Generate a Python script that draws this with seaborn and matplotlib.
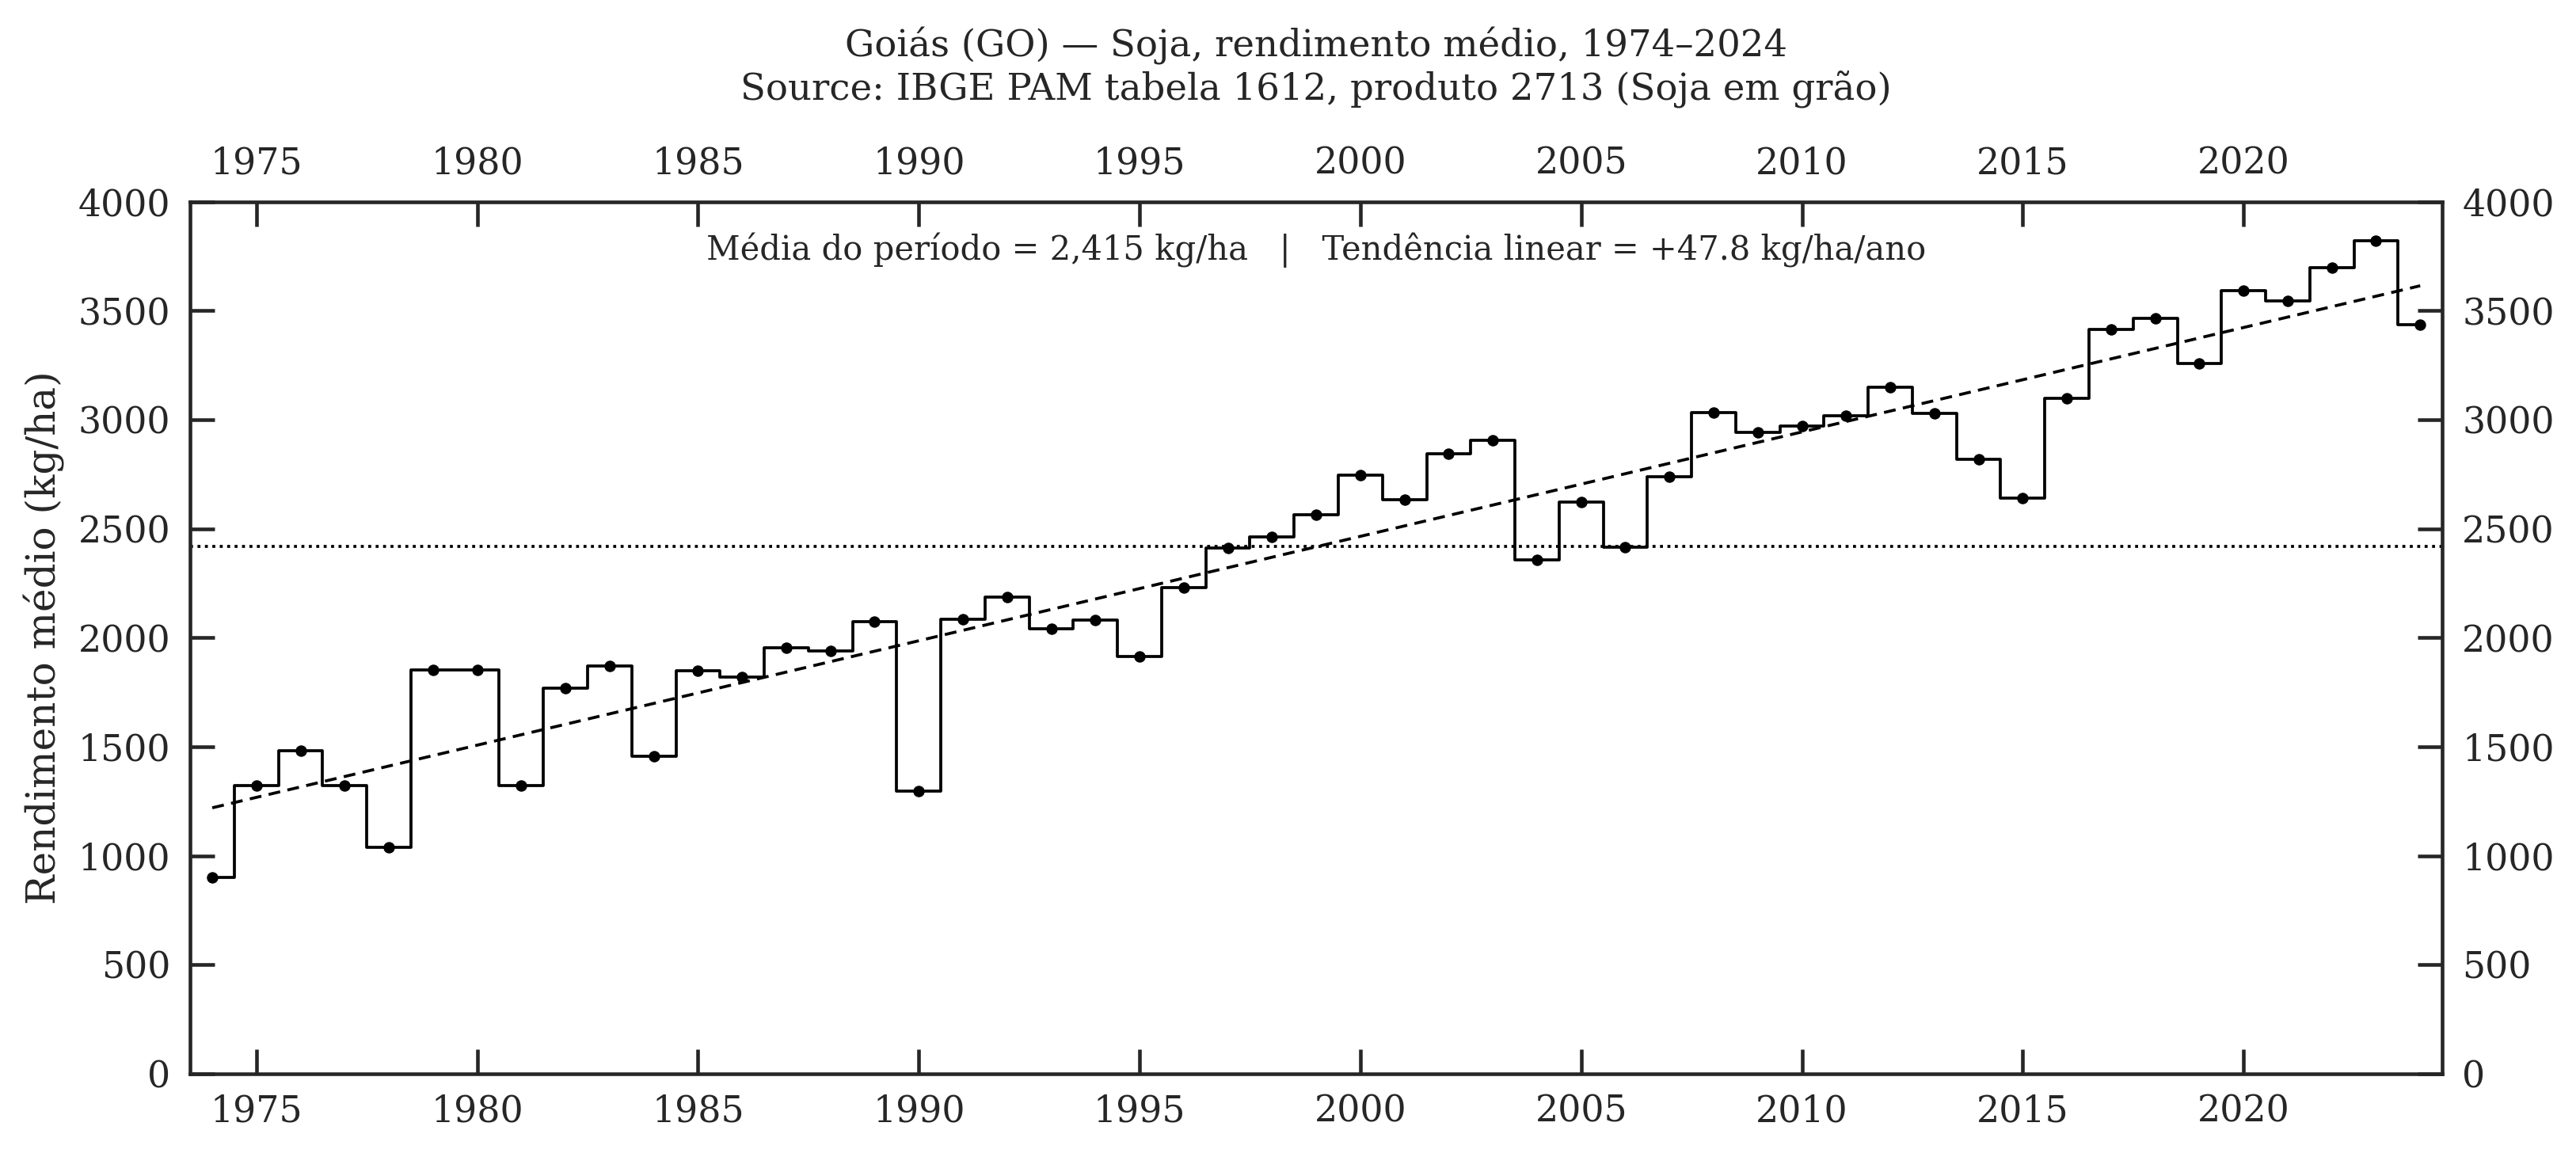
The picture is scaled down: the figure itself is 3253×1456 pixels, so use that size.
import matplotlib
matplotlib.use("Agg")
import matplotlib.pyplot as plt
import numpy as np
import pandas as pd
import seaborn as sns

# rendimento médio de soja em Goiás (kg/ha)
years = list(range(1974, 2025))
yield_kg_ha = [
    900, 1322, 1482, 1322, 1040, 1852, 1852, 1322, 1768, 1870,
    1455, 1848, 1818, 1954, 1940, 2074, 1297, 2084, 2186, 2042,
    2080, 1914, 2231, 2411, 2464, 2566, 2746, 2635, 2843, 2907,
    2356, 2622, 2416, 2740, 3033, 2942, 2970, 3018, 3150, 3028,
    2817, 2642, 3097, 3413, 3465, 3260, 3593, 3547, 3696, 3822,
    3437,
]
x_ticks = [1975, 1980, 1985, 1990, 1995, 2000, 2005, 2010, 2015, 2020]
y_ticks = [0, 500, 1000, 1500, 2000, 2500, 3000, 3500, 4000]

title = ("Goiás (GO) — Soja, rendimento médio, 1974–2024\n"
         "Source: IBGE PAM tabela 1612, produto 2713 (Soja em grão)")
stats_text = ("Média do período = 2,415 kg/ha   |   "
              "Tendência linear = +47.8 kg/ha/ano")

df = pd.DataFrame({"ano": years, "rendimento": yield_kg_ha})
mean_val = df["rendimento"].mean()
slope, intercept = np.polyfit(df["ano"], df["rendimento"], 1)
df["tendencia"] = intercept + slope * df["ano"]

sns.set_theme(style="ticks")
plt.rcParams["font.family"] = ["DejaVu Serif"]

fig = plt.figure(figsize=(3254 / 300, 1456 / 300), dpi=300)
ax = fig.add_axes([0.0738, 0.0687, 0.874, 0.7563])

sns.lineplot(data=df, x="ano", y="rendimento", ax=ax, color="black",
             linewidth=0.9, drawstyle="steps-mid")
sns.scatterplot(data=df, x="ano", y="rendimento", ax=ax, color="black",
                s=10, edgecolor="black", linewidth=0.3, zorder=3)
sns.lineplot(data=df, x="ano", y="tendencia", ax=ax, color="black",
             linewidth=0.9, linestyle=(0, (4, 2.5)))
ax.axhline(mean_val, color="black", linewidth=0.9, linestyle=(0, (1, 1.5)))

ax.set_xlim(1973.5, 2024.5)
ax.set_ylim(0, 4000)
ax.set_xticks(x_ticks)
ax.set_yticks(y_ticks)
ax.set_xlabel("")
ax.set_ylabel("Rendimento médio (kg/ha)", fontsize=12)
ax.tick_params(direction="in", top=True, right=True, labeltop=True,
               labelright=True, length=7.5, width=1.1, labelsize=11, pad=6)
for sp in ax.spines.values():
    sp.set_linewidth(1.1)
    sp.set_visible(True)

ax.text(0.5, 0.945, stats_text, transform=ax.transAxes, ha="center",
        va="center", fontsize=10)
ax.set_title(title, fontsize=11.2, pad=14)

fig.savefig("out.png", dpi=300)
